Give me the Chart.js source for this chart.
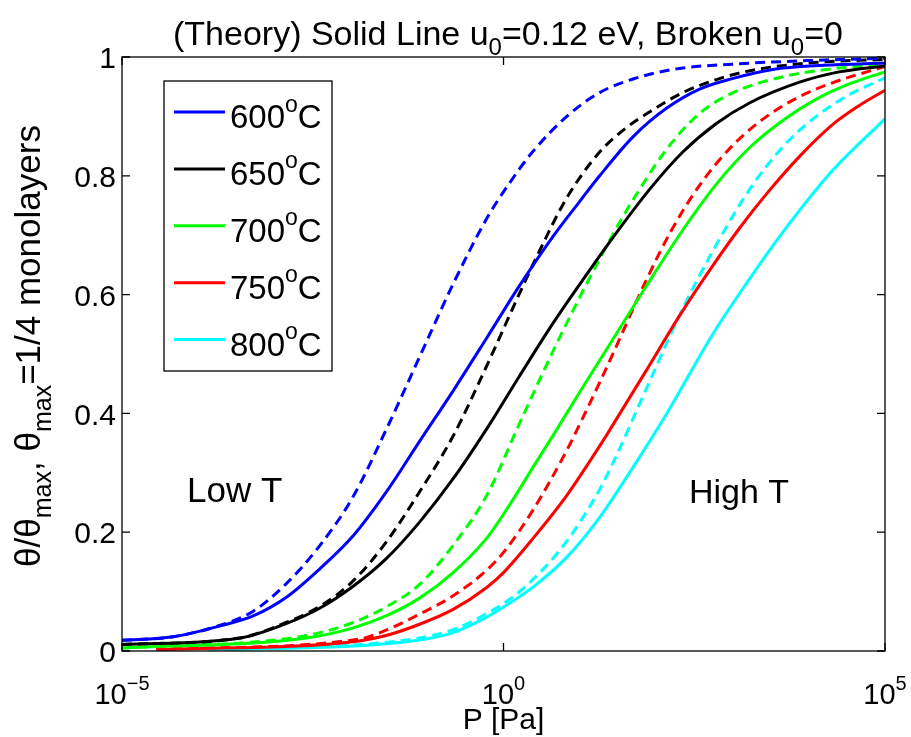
<!DOCTYPE html>
<html>
<head>
<meta charset="utf-8">
<script src="https://cdn.jsdelivr.net/npm/chart.js@4.4.1/dist/chart.umd.min.js"></script>
<style>
  body { margin: 0; background: #fff; }
  canvas { display: block; }
</style>
</head>
<body>
<canvas id="chart" width="911" height="737"></canvas>
<script>
// Datos: exponente log10(P) y theta/theta_max

// 600 C
const lgP600s = [-5, -4.33, -3.72, -3.28, -2.85, -2.41, -1.97, -1.54, -1.10, -0.66, -0.22, 0.21, 0.65, 1.0, 1.26, 1.70, 2.14, 2.57, 3.01, 3.53, 4.2, 5];
const th600s  = [0.018, 0.024, 0.042, 0.059, 0.090, 0.138, 0.194, 0.267, 0.353, 0.438, 0.527, 0.615, 0.698, 0.757, 0.800, 0.866, 0.914, 0.946, 0.964, 0.979, 0.986, 0.990];
const lgP600b = [-5, -4.33, -3.72, -3.28, -2.85, -2.41, -1.97, -1.54, -1.10, -0.66, -0.22, 0.08, 0.38, 0.83, 1.26, 1.70, 2.27, 3.0, 4.0, 5];
const th600b  = [0.018, 0.024, 0.043, 0.067, 0.113, 0.177, 0.260, 0.372, 0.495, 0.618, 0.728, 0.788, 0.840, 0.900, 0.940, 0.963, 0.980, 0.988, 0.994, 0.998];

// 650 C
const lgP650s = [-5, -3.44, -2.85, -2.41, -1.97, -1.54, -1.10, -0.66, -0.22, 0.21, 0.65, 1.09, 1.52, 1.92, 2.35, 2.79, 3.23, 3.89, 4.4, 5];
const th650s  = [0.011, 0.022, 0.046, 0.072, 0.109, 0.155, 0.217, 0.290, 0.374, 0.463, 0.552, 0.634, 0.711, 0.778, 0.840, 0.888, 0.923, 0.958, 0.975, 0.985];
const lgP650b = [-5, -3.46, -2.85, -2.41, -1.97, -1.54, -1.10, -0.66, -0.22, 0.21, 0.41, 0.83, 1.26, 1.6, 1.92, 2.35, 2.79, 3.23, 4.0, 5];
const th650b  = [0.011, 0.022, 0.048, 0.075, 0.118, 0.183, 0.268, 0.362, 0.480, 0.602, 0.657, 0.763, 0.840, 0.880, 0.908, 0.940, 0.962, 0.977, 0.990, 0.996];

// 700 C
const lgP700s = [-5, -2.58, -1.97, -1.54, -1.10, -0.66, -0.22, 0.08, 0.39, 0.65, 1.0, 1.44, 1.87, 2.33, 2.79, 3.23, 3.67, 4.10, 4.54, 5];
const th700s  = [0.005, 0.022, 0.039, 0.059, 0.089, 0.132, 0.190, 0.246, 0.310, 0.363, 0.436, 0.526, 0.614, 0.705, 0.786, 0.848, 0.894, 0.929, 0.955, 0.975];
const lgP700b = [-5, -2.63, -1.97, -1.54, -1.10, -0.66, -0.22, 0.21, 0.65, 1.04, 1.26, 1.44, 1.70, 2.14, 2.57, 3.01, 3.67, 4.3, 5];
const th700b  = [0.005, 0.025, 0.048, 0.074, 0.112, 0.178, 0.262, 0.383, 0.505, 0.606, 0.660, 0.703, 0.760, 0.845, 0.905, 0.940, 0.967, 0.980, 0.988];

// 750 C
const lgP750s = [-4.55, -1.89, -1.54, -1.10, -0.66, -0.22, 0.0, 0.39, 0.83, 1.26, 1.44, 1.87, 2.31, 2.75, 3.10, 3.45, 3.89, 4.32, 4.66, 5];
const th750s  = [0.002, 0.017, 0.026, 0.045, 0.070, 0.107, 0.132, 0.190, 0.262, 0.345, 0.382, 0.472, 0.565, 0.650, 0.713, 0.770, 0.834, 0.887, 0.918, 0.944];
const lgP750b = [-4.55, -1.89, -1.54, -1.10, -0.66, -0.22, 0.0, 0.39, 0.83, 1.0, 1.26, 1.44, 1.87, 2.20, 2.57, 3.01, 3.45, 3.89, 4.32, 5];
const th750b  = [0.003, 0.020, 0.035, 0.062, 0.093, 0.136, 0.166, 0.238, 0.338, 0.382, 0.452, 0.502, 0.624, 0.708, 0.784, 0.852, 0.900, 0.934, 0.957, 0.984];

// 800 C
const lgP800s = [-3.86, -1.19, -0.66, -0.22, 0.0, 0.39, 0.83, 1.26, 1.70, 2.14, 2.75, 3.19, 3.62, 4.32, 5];
const th800s  = [0.001, 0.017, 0.031, 0.057, 0.074, 0.108, 0.158, 0.225, 0.310, 0.400, 0.535, 0.620, 0.698, 0.810, 0.896];
const lgP800b = [-3.86, -1.19, -0.66, -0.22, 0.08, 0.39, 0.83, 1.26, 1.44, 1.87, 2.31, 2.75, 3.23, 3.67, 4.10, 4.54, 5];
const th800b  = [0.001, 0.020, 0.036, 0.063, 0.087, 0.121, 0.185, 0.272, 0.318, 0.441, 0.566, 0.675, 0.778, 0.850, 0.900, 0.937, 0.965];

const temps  = ['600', '650', '700', '750', '800'];
const colors = ['#0000ff', '#000000', '#00ff00', '#ff0000', '#00ffff'];

const xTicks = [1e-5, 1, 1e5];
const xTickExp = ['\u22125', '0', '5'];
const yTicks = [0, 0.2, 0.4, 0.6, 0.8, 1];
const yTickLabels = ['0', '0.2', '0.4', '0.6', '0.8', '1'];

const solidSeries = [[lgP600s, th600s], [lgP650s, th650s], [lgP700s, th700s], [lgP750s, th750s], [lgP800s, th800s]];
const brokenSeries = [[lgP600b, th600b], [lgP650b, th650b], [lgP700b, th700b], [lgP750b, th750b], [lgP800b, th800b]];

const FONT = '"Liberation Sans", Arial, Helvetica, sans-serif';

function toPoints(lg, th) {
    return lg.map((l, i) => ({ x: Math.pow(10, l), y: th[i] }));
}

const datasets = [];
solidSeries.forEach((s, i) => {
    datasets.push({
        label: temps[i],
        data: toPoints(s[0], s[1]),
        borderColor: colors[i],
        borderWidth: 3,
        fill: false
    });
});
brokenSeries.forEach((s, i) => {
    datasets.push({
        label: temps[i] + ' broken',
        data: toPoints(s[0], s[1]),
        borderColor: colors[i],
        borderWidth: 3,
        borderDash: [10, 6],
        fill: false
    });
});

// Dibuja texto con partes en superíndice / subíndice
function richWidth(ctx, parts, size) {
    let w = 0;
    parts.forEach(p => {
        ctx.font = (p.sup || p.sub ? Math.round(size * 0.7) : size) + 'px ' + FONT;
        w += ctx.measureText(p.t).width;
    });
    return w;
}
function drawRich(ctx, parts, x, y, size, align, supRise) {
    const w = richWidth(ctx, parts, size);
    let cx = x;
    if (align === 'center') cx = x - w / 2;
    if (align === 'right') cx = x - w;
    ctx.textAlign = 'left';
    ctx.textBaseline = 'alphabetic';
    parts.forEach(p => {
        const small = p.sup || p.sub;
        ctx.font = (small ? Math.round(size * 0.7) : size) + 'px ' + FONT;
        let dy = 0;
        if (p.sup) dy = -size * (supRise || 0.45);
        if (p.sub) dy = size * 0.3;
        ctx.fillText(p.t, cx, y + dy);
        cx += ctx.measureText(p.t).width;
    });
}

const decorations = {
    id: 'decorations',
    afterDatasetsDraw(chart) {
        const ctx = chart.ctx;
        const { left, right, top, bottom } = chart.chartArea;
        const xs = chart.scales.x, ys = chart.scales.y;
        ctx.save();
        ctx.fillStyle = '#000';
        ctx.strokeStyle = '#000';
        ctx.lineWidth = 1.3;

        // marco y marcas
        ctx.strokeRect(left, top, right - left, bottom - top);
        ctx.beginPath();
        yTicks.forEach(v => {
            const py = ys.getPixelForValue(v);
            ctx.moveTo(left, py); ctx.lineTo(left + 8, py);
            ctx.moveTo(right, py); ctx.lineTo(right - 8, py);
        });
        xTicks.forEach(v => {
            const px = xs.getPixelForValue(v);
            ctx.moveTo(px, bottom); ctx.lineTo(px, bottom - 8);
            ctx.moveTo(px, top); ctx.lineTo(px, top + 8);
        });
        ctx.stroke();

        // etiquetas de los ejes
        ctx.font = '30px ' + FONT;
        ctx.textAlign = 'right';
        ctx.textBaseline = 'middle';
        yTicks.forEach((v, i) => {
            ctx.fillText(yTickLabels[i], left - 6, ys.getPixelForValue(v) + 3);
        });
        xTicks.forEach((v, i) => {
            drawRich(ctx, [{ t: '10' }, { t: xTickExp[i], sup: true }], xs.getPixelForValue(v), bottom + 53, 29, 'center', 0.5);
        });
        drawRich(ctx, [{ t: 'P [Pa]' }], (left + right) / 2, 729, 30, 'center');

        // título
        drawRich(ctx, [
            { t: '(Theory) Solid Line u' }, { t: '0', sub: true },
            { t: '=0.12 eV, Broken u' }, { t: '0', sub: true }, { t: '=0' }
        ], 508, 45, 34, 'center');

        // etiqueta del eje y
        ctx.save();
        ctx.translate(40, (top + bottom) / 2 - 8);
        ctx.rotate(-Math.PI / 2);
        drawRich(ctx, [
            { t: '\u03b8/\u03b8' }, { t: 'max', sub: true },
            { t: ', \u03b8' }, { t: 'max', sub: true }, { t: '=1/4 monolayers' }
        ], 0, 0, 35, 'center');
        ctx.restore();

        // anotaciones
        drawRich(ctx, [{ t: 'Low T' }], 187, 502, 35, 'left');
        drawRich(ctx, [{ t: 'High T' }], 689, 503, 34, 'left');

        // leyenda
        const lx = 164, ly = 81, lw = 168, lh = 290;
        ctx.fillStyle = '#fff';
        ctx.fillRect(lx, ly, lw, lh);
        ctx.strokeStyle = '#000';
        ctx.lineWidth = 1.3;
        ctx.strokeRect(lx, ly, lw, lh);
        temps.forEach((t, i) => {
            const yy = 112 + i * 56.9;
            ctx.strokeStyle = colors[i];
            ctx.lineWidth = 3;
            ctx.beginPath();
            ctx.moveTo(174, yy); ctx.lineTo(225, yy);
            ctx.stroke();
            ctx.fillStyle = '#000';
            drawRich(ctx, [{ t: t }, { t: 'o', sup: true }, { t: 'C' }], 230, yy + 16, 33, 'left', 0.5);
        });
        ctx.restore();
    }
};

new Chart(document.getElementById('chart'), {
    type: 'line',
    data: { datasets: datasets },
    options: {
        responsive: false,
        animation: false,
        layout: { padding: { left: 122, top: 57, right: 26, bottom: 86 } },
        scales: {
            x: { type: 'logarithmic', min: 1e-5, max: 1e5, display: false },
            y: { type: 'linear', min: 0, max: 1, display: false }
        },
        elements: {
            point: { radius: 0 },
            line: { cubicInterpolationMode: 'monotone' }
        },
        plugins: {
            legend: { display: false },
            tooltip: { enabled: false }
        }
    },
    plugins: [decorations]
});
</script>
</body>
</html>
